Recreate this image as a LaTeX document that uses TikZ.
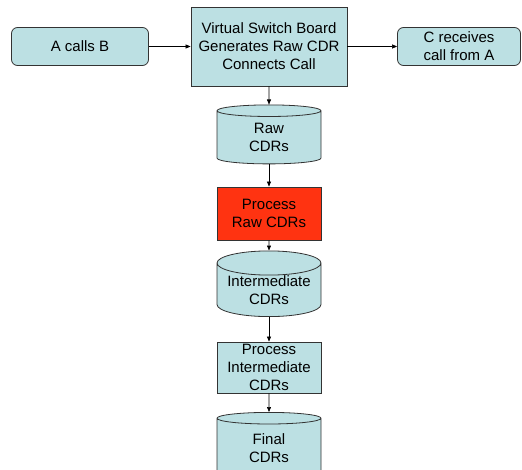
\documentclass[tikz,border=0pt]{standalone}
\usepackage{fontspec}
\setmainfont{Liberation Sans}
\usetikzlibrary{arrows.meta,positioning,shapes.geometric}
\definecolor{cdrblue}{RGB}{188,224,227}
\definecolor{cdrred}{RGB}{255,51,17}
\begin{document}
\begin{tikzpicture}
[x=1pt,y=1pt,
font=\fontsize{15}{18}\selectfont,
box/.style={rectangle,draw=black!80,fill=cdrblue,thick,align=center,
inner sep=0pt,minimum width=104pt},
party/.style={box,rounded corners=6pt,minimum height=38pt},
store/.style={cylinder,shape border rotate=90,aspect=0.29,draw=black!80,
fill=cdrblue,thick,align=center,inner sep=0pt,
minimum width=104pt,minimum height=59pt},
hot/.style={box,fill=cdrred},
flow/.style={-{Triangle[length=5pt,width=4pt]},semithick},
node distance=76pt,on grid]

\useasboundingbox (0,0) rectangle (522,469);

\node [box,minimum width=156pt,minimum height=79pt] (vsb) at (269,422.5)
{Virtual Switch Board\\Generates Raw CDR\\Connects Call};
\node [party,minimum width=137pt] (acb) [left=189pt of vsb] {A calls B};
\node [party,minimum width=123pt] (crcv) [right=190pt of vsb]
{C receives\\call from A};
\node [store] (raw) [below=91pt of vsb] {Raw\\CDRs};
\node [hot,minimum height=53pt] (praw) [below=of raw]
{Process\\Raw CDRs};
\node [store,minimum height=56pt] (inter) [below=76.5pt of praw]
{Intermediate\\CDRs};
\node [box,minimum height=51pt] (pint) [below=77.5pt of inter]
{Process\\Intermediate\\CDRs};
\node [store,minimum height=66pt] (final) [below=81pt of pint] {Final\\CDRs};

\draw [flow] (acb) -- (vsb);
\draw [flow] (vsb) -- (crcv);
\draw [flow] (vsb) -- (raw);
\draw [flow] (raw) -- (praw);
\draw [flow] (praw) -- (inter);
\draw [flow] (inter) -- (pint);
\draw [flow] (pint) -- (final);
\end{tikzpicture}
\end{document}
